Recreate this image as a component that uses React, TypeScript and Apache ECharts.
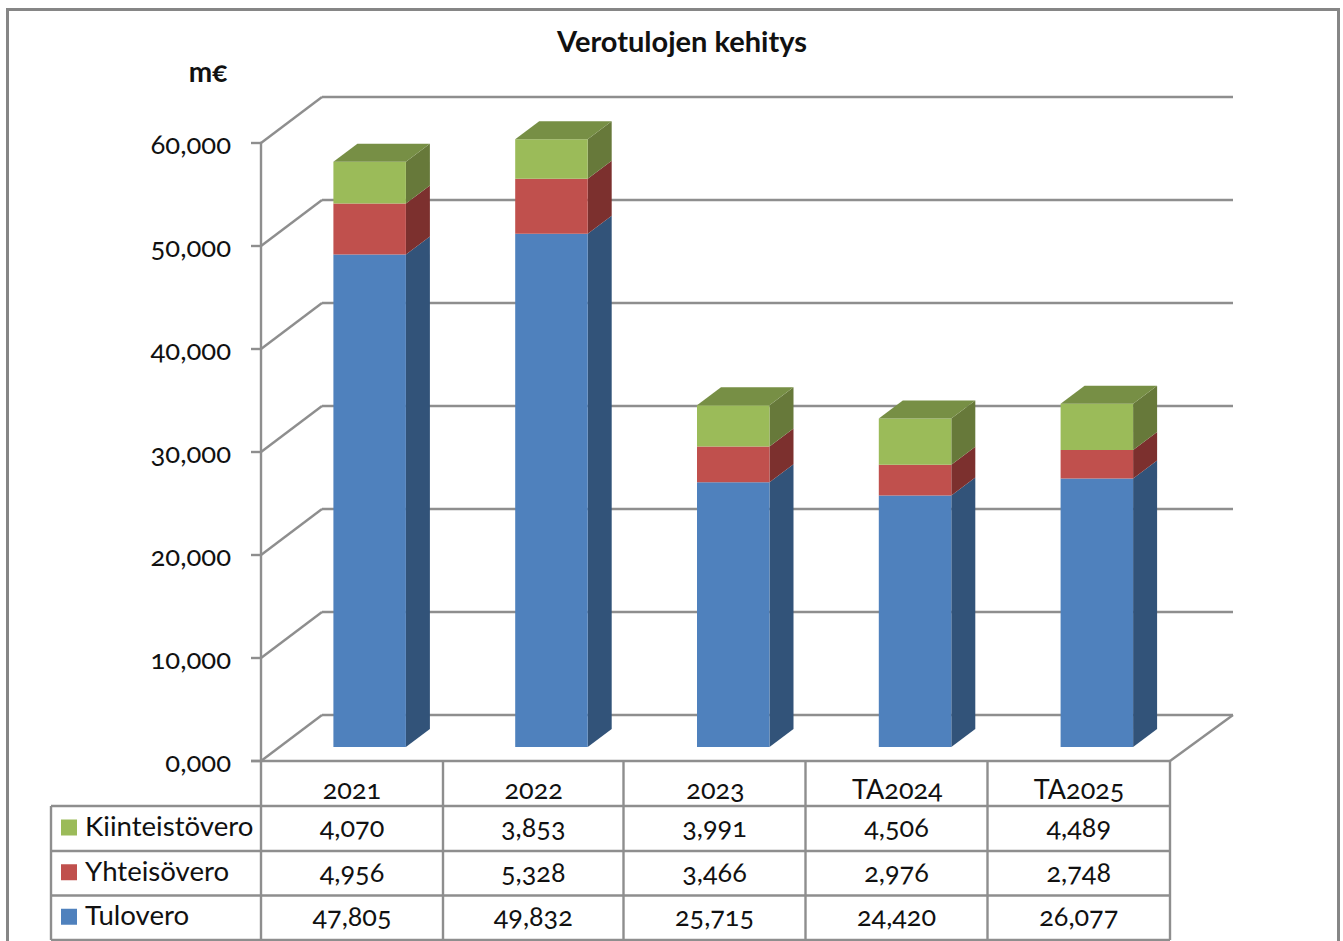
import React, { useEffect, useRef } from "react";
import * as echarts from "echarts";

const categories = ["2021", "2022", "2023", "TA2024", "TA2025"];
const tulovero = [47805, 49832, 25715, 24420, 26077];
const yhteisovero = [4956, 5328, 3466, 2976, 2748];
const kiinteistovero = [4070, 3853, 3991, 4506, 4489];
const yTicks = [0, 10000, 20000, 30000, 40000, 50000, 60000];
const title = "Verotulojen kehitys";
const unit = "m€";

const FONT = "Lato";
const GRID = "#8e8e8e";
const TEXT = "#111111";
const LW = 2.4;

const stackDefs = [
  { name: "Tulovero", values: tulovero, front: "#4F81BD", side: "#325379", top: "#3F6797" },
  { name: "Yhteisövero", values: yhteisovero, front: "#C0504D", side: "#7C302E", top: "#9A403E" },
  { name: "Kiinteistövero", values: kiinteistovero, front: "#9BBB59", side: "#67793A", top: "#778F45" },
];
const tableRows = [stackDefs[2], stackDefs[1], stackDefs[0]];

const G = { left: 261, right: 1170, top: 143, bottom: 761 };
const WALL = { dx: 61, dy: -46, right: 1233 };
const BAR = { width: 72.5, shiftX: 17.75, shiftY: -14, dx: 24, dy: -18 };
const ROW_Y = [806, 851, 895.5, 940];
const COL_X = [261, 443, 623.5, 805.5, 987.5, 1170];
const TABLE_LEFT = 51;

const fmt = (v: number) => v.toLocaleString("en-US");
const line = (x1: number, y1: number, x2: number, y2: number, w = LW) => ({
  type: "line",
  shape: { x1, y1, x2, y2 },
  style: { stroke: GRID, lineWidth: w },
  silent: true,
});

function tableGraphics() {
  const els: any[] = [];
  els.push({
    type: "rect",
    shape: { x: 7.5, y: 9.5, width: 1331, height: 940 },
    style: { fill: "none", stroke: "#868686", lineWidth: 3 },
    silent: true,
  });
  ROW_Y.forEach((y) => els.push(line(TABLE_LEFT, y, G.right, y)));
  els.push(line(G.left - 10, G.bottom, G.right, G.bottom));
  COL_X.forEach((x) => els.push(line(x, G.bottom, x, ROW_Y[3])));
  els.push(line(TABLE_LEFT, ROW_Y[0], TABLE_LEFT, ROW_Y[3]));
  els.push({
    type: "text",
    style: {
      text: unit,
      x: 208,
      y: 71,
      align: "center",
      verticalAlign: "middle",
      fill: TEXT,
      fontFamily: FONT,
      fontSize: 28,
      fontWeight: "bold",
    },
  });
  tableRows.forEach((row, r) => {
    const cy = (ROW_Y[r] + ROW_Y[r + 1]) / 2;
    els.push({
      type: "rect",
      shape: { x: 61, y: cy - 9, width: 16, height: 16 },
      style: { fill: row.front },
      silent: true,
    });
    els.push({
      type: "text",
      style: {
        text: row.name,
        x: 85,
        y: cy - 3,
        align: "left",
        verticalAlign: "middle",
        fill: TEXT,
        fontFamily: FONT,
        fontSize: 27.6,
      },
    });
    row.values.forEach((v, c) => {
      els.push({
        type: "text",
        style: {
          text: fmt(v),
          x: (COL_X[c] + COL_X[c + 1]) / 2,
          y: cy - 2,
          align: "center",
          verticalAlign: "middle",
          fill: TEXT,
          fontFamily: FONT,
          fontSize: 27,
        },
      });
    });
  });
  return els;
}

export default function App() {
  const ref = useRef<HTMLDivElement>(null);
  useEffect(() => {
    document.body.style.margin = "0";
    document.body.style.overflow = "hidden";
    const chart = echarts.init(ref.current!, undefined, { renderer: "svg" });

    const gridSeries = {
      type: "custom",
      coordinateSystem: "cartesian2d",
      silent: true,
      z: 1,
      data: yTicks.map((t) => [0, t]),
      renderItem: (_p: any, api: any) => {
        const y = api.coord([0, api.value(1)])[1];
        const children: any[] = [
          { type: "line", shape: { x1: G.left, y1: y, x2: G.left + WALL.dx, y2: y + WALL.dy }, style: { stroke: GRID, lineWidth: LW } },
          { type: "line", shape: { x1: G.left + WALL.dx, y1: y + WALL.dy, x2: WALL.right, y2: y + WALL.dy }, style: { stroke: GRID, lineWidth: LW } },
        ];
        if (api.value(1) === 0) {
          children.push({
            type: "line",
            shape: { x1: G.right, y1: y, x2: WALL.right, y2: y + WALL.dy },
            style: { stroke: GRID, lineWidth: LW },
          });
        }
        return { type: "group", children };
      },
    };

    const stackSeries = stackDefs.map((s, k) => {
      const data = s.values.map((v, i) => {
        let base = 0;
        for (let j = 0; j < k; j++) base += stackDefs[j].values[i];
        return [i, base, base + v];
      });
      return {
        type: "custom",
        name: s.name,
        coordinateSystem: "cartesian2d",
        silent: true,
        z: 2 + k,
        data,
        renderItem: (_p: any, api: any) => {
          const i = api.value(0);
          const pb = api.coord([i, api.value(1)]);
          const pt = api.coord([i, api.value(2)]);
          const x0 = pb[0] + BAR.shiftX - BAR.width / 2;
          const x1 = x0 + BAR.width;
          const yb = pb[1] + BAR.shiftY;
          const yt = pt[1] + BAR.shiftY;
          const children: any[] = [
            {
              type: "polygon",
              shape: { points: [[x1, yb], [x1 + BAR.dx, yb + BAR.dy], [x1 + BAR.dx, yt + BAR.dy], [x1, yt]] },
              style: { fill: s.side },
            },
            { type: "rect", shape: { x: x0, y: yt, width: BAR.width, height: yb - yt }, style: { fill: s.front } },
          ];
          if (k === stackDefs.length - 1) {
            children.push({
              type: "polygon",
              shape: { points: [[x0, yt], [x0 + BAR.dx, yt + BAR.dy], [x1 + BAR.dx, yt + BAR.dy], [x1, yt]] },
              style: { fill: s.top },
            });
          }
          return { type: "group", children };
        },
      };
    });

    chart.setOption({
      animation: false,
      backgroundColor: "#ffffff",
      title: {
        text: title,
        left: 677,
        top: 21,
        textAlign: "center",
        textStyle: { fontFamily: FONT, fontSize: 29, fontWeight: "bold", color: TEXT },
      },
      grid: { left: G.left, top: G.top, width: G.right - G.left, height: G.bottom - G.top, containLabel: false },
      xAxis: {
        type: "category",
        data: categories,
        axisLine: { show: false },
        axisTick: { show: false },
        axisLabel: { margin: 14, fontFamily: FONT, fontSize: 27, color: TEXT, interval: 0 },
      },
      yAxis: {
        type: "value",
        min: 0,
        max: 60000,
        interval: 10000,
        splitLine: { show: false },
        axisLine: { show: true, lineStyle: { color: GRID, width: LW } },
        axisTick: { show: true, length: 10, lineStyle: { color: GRID, width: LW } },
        axisLabel: {
          margin: 30,
          fontFamily: FONT,
          fontSize: 27.5,
          color: TEXT,
          formatter: (v: number) => `${v / 1000},000`,
        },
      },
      graphic: { elements: tableGraphics() },
      series: [gridSeries, ...stackSeries],
    });
    return () => chart.dispose();
  }, []);
  return <div ref={ref} style={{ width: 1343, height: 941, fontFeatureSettings: '"onum"' }} />;
}
